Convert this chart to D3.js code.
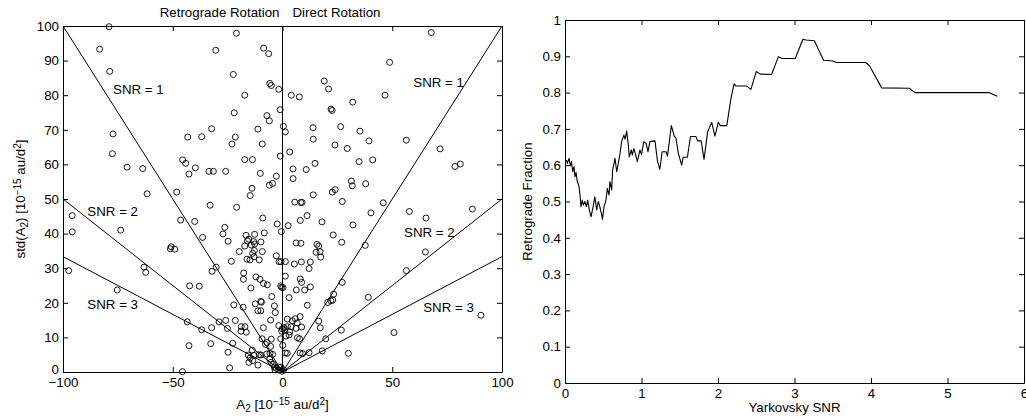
<!DOCTYPE html>
<html>
<head>
<meta charset="utf-8">
<script src="https://cdn.jsdelivr.net/npm/d3@7"></script>
<style>
  html, body { margin: 0; padding: 0; background: #fff; }
  svg { display: block; font-family: "Liberation Sans", Arial, sans-serif; }
  .tick text { font-size: 13.3px; fill: #000; }
  .tick line, .domain { stroke: #000; stroke-width: 1; }
  .lbl { font-size: 13.3px; fill: #000; }
</style>
</head>
<body>
<svg id="chart" width="1026" height="417"></svg>
<script>
// ---------------------------------------------------------------- dados
// painel esquerdo: A2 (10^-15 au/d^2) e std(A2)
const a2 = [
  -79, -83.3, -78.7, -77.2, -77.5, -70.8, -63.7, -61.7, -48.2, -45.5, -44.1, -42.6, -43.2, -39.7, -36.8, -33.5, -31.5, -32.3, -30.4, -25.9, -33, -20.9,
  -21, -8.6, -6.3, -22.4, -5.8, -5.1, -1.7, -17.2, 4, 7.7, 19, 21, 32, 22.1, 22.6, -22, -1.1, -7.1, -6, -11.2, 0.4, 1.3, 13.9, 26.5, 35.3, -21.5, -23, -9.2, 14, 23.9, 29.5, 39.4, -1, 3.3, -17.2, -13.7, -10.1, -2.8, -6, -4.5, 4.8, 4.8, 10.8, 14.8, 34.9, 41.1, 31.4, 31.8, 37.9, 14, 22.7, 24, -13.9, -14.7,
  67.8, 48.8, 46.7, 56.4, 71.8, 78.6, 81, 27.2, 5.6, 8.3, 8.9, 45.9, 86.5,
  40.3, 57.8, 65.4, 11.2, 8.1, 18, 2.6, 32.1, -0.5, 23.1, 27, 6.2, 8.4, 15.7, 16.5, 15.3, 17.1, 17.4, 37.7, 65.1, 56.4, -0.7, 1.3, 5.4, 8.6, 12.7, 12.1, 1.3, 8.1, 8.7, 6.3, 10.1, 12.7, -0.4, 3, 27.2, 23.3, 22, 20.6, 22.9, 11.3, 39.1, 90.4, 2.2, 4.5, 5.8, 8, -0.1, 1, 3.9, 6.2, 8.7, 16.5, 17.2, 26.8, 1.6, 3, 6.8, 7.8, 19.7, 50.8, 0.1, 1.3, 2.2, 8, 9.2, 12.1, 18.1, 30, -0.7,
  -95.8, -95.8, -73.7, -46.4, -40, -36.4, -26.3, -27.1, -24.8, -50.7, -49.1, -51.1, -97.4, -63.1, -62.3, -32.1, -30.2, -23.3, -75.3, -42.3, -37.9, -43.4, -36.8, -32.3, -28.9, -25.1, -42.6, -32.7, -22.7, -24.8, -24.1, -45.6, -22.2, -25.9, -17.9,
  -9, -2.4, -16.6, -15.4, -12.7, -8.3, -16, -13.1, -12.7, -9.8, -14.2, -12.8, -13.6, -9.2, -19.7, -16.2, -14.8, -13, -10.6, -17.2, -2.8, -1.6, -17.7, -17.8, -12.1, -10.3, -8.7, -6.9, -14.4, -0.8, 0.2, -4.9, -9.9, -9.6, -12.4, -11.2, -9.9, -3.7, -3.3, -21.5, -18.8, -17.1, -18.9, -16.5, -8.7, -5.4, -1.7, -0.4, 0.7, 2.2, 3.3, 6.7, -0.8, -13.8, -15.6, -14.8, -15.3, -13.6, -11.2, -10.6, -9.8, -13, -9.3, -7.8, -7.1, -5.1, -5.4, -7.2, -5.7, -4.5, -5.8, -5.2, -4.3, -3.7, -2.8, -1.6, -3.4, -1.7, -0.2, 0.5
];
const stdA2 = [
  99.8, 93.3, 86.9, 68.8, 63.1, 59.2, 58.8, 51.5, 52, 61.3, 60.3, 57.2, 67.9, 59, 68, 58, 58, 70.3, 93, 58, 48.2, 47.6,
  97.9, 93.6, 92, 86, 83.4, 82.8, 81.7, 80, 80, 79.5, 84.1, 81.8, 78, 76, 75.6, 74.9, 75.8, 74.1, 72.6, 70.2, 71, 69.4, 70.6, 70.9, 69.6, 67.9, 65.9, 65.9, 67.3, 65.6, 64.6, 66.8, 62.4, 63.6, 61.4, 61.4, 57.4, 56.6, 54, 54.5, 58.7, 55.9, 58.5, 60.3, 60.8, 61.3, 55.2, 53.8, 54.4, 51.2, 52, 52.7, 53.1, 51,
  98.1, 89.5, 80, 67, 64.5, 59.4, 60.1, 49.3, 49.1, 49, 49, 48.9, 47.1,
  46, 46.4, 44.5, 45.2, 43.8, 43.4, 42.3, 42.5, 40.6, 39.6, 37.5, 37.3, 37.2, 36.9, 36.4, 34.6, 34.8, 33.2, 36.6, 34.7, 29.3, 31.9, 31.9, 31.2, 31.8, 31.8, 29.9, 27.7, 26.9, 25.9, 23.7, 23.7, 24.6, 24.5, 21.5, 25.9, 22.5, 20.6, 20.1, 20.8, 19.3, 21.6, 16.4, 15.3, 14.8, 15.4, 16, 12.5, 12.2, 13.1, 12.6, 13, 14.7, 12.8, 12.1, 10.4, 10.7, 9.9, 9.6, 9.6, 11.4, 7.7, 5.5, 5.4, 5.5, 5.3, 5.6, 6.1, 5.4, 1.4,
  45.2, 40.5, 41, 43.9, 43.5, 38.9, 41.8, 39.9, 37.8, 36.2, 35.5, 35.6, 29.3, 30.3, 28.8, 29.1, 30.3, 32, 23.7, 24.9, 24.8, 14.5, 12.2, 12.8, 14.5, 12.6, 7.6, 8.2, 8.3, 5.7, 1.2, 0.1, 19.4, 14.9, 18.7,
  44.5, 42.8, 39.5, 38.4, 39.8, 40.2, 37.9, 37.7, 37, 37.6, 36.7, 35.1, 34.3, 34.8, 34.8, 32.6, 32.4, 33.3, 32.4, 36.4, 33.6, 31.9, 28.6, 26.8, 27.5, 26.8, 25.6, 25.2, 24.3, 24.9, 24.4, 21.8, 20.4, 20.2, 19.7, 17.7, 17.7, 19.1, 17.2, 14.9, 13.1, 13.1, 11.8, 11.5, 12.8, 15, 13.4, 11.8, 12.8, 13.1, 11.6, 14.2, 9.6, 6.3, 4.9, 4, 2.8, 3.3, 2, 5, 4.9, 4.8, 9.6, 8, 8.5, 9.5, 7.4, 5.2, 5.4, 5.1, 3.7, 2.8, 2.2, 1.4, 1, 0.6, 0.6, 1.4, 0.2, 0.6
];

// retas SNR = |A2| / std(A2)
const snrLevels = [1, 2, 3];
const snrLabels = [
  { text: 'SNR = 1', x: -77.2, y: 80.3, anchor: 'start' },
  { text: 'SNR = 1', x: 59.6, y: 82.4, anchor: 'start' },
  { text: 'SNR = 2', x: -88.9, y: 45.2, anchor: 'start' },
  { text: 'SNR = 2', x: 55.4, y: 39.1, anchor: 'start' },
  { text: 'SNR = 3', x: -88.9, y: 18.1, anchor: 'start' },
  { text: 'SNR = 3', x: 64.1, y: 17.4, anchor: 'start' },
];

// painel direito: fração retrógrada acumulada vs SNR
const snrX = [
  0.02, 0.03, 0.052, 0.07, 0.085, 0.10, 0.118, 0.13, 0.145, 0.16, 0.18, 0.196, 0.209, 0.226, 0.24, 0.26, 0.28, 0.297, 0.318, 0.34,
  0.37, 0.39, 0.414, 0.435, 0.455, 0.48, 0.49, 0.51, 0.536, 0.553, 0.575, 0.588, 0.61, 0.623, 0.654, 0.676, 0.697, 0.72, 0.74, 0.77,
  0.785, 0.806, 0.828, 0.84, 0.867, 0.88, 0.90, 0.92, 0.945, 0.98, 1.0, 1.03, 1.06, 1.085, 1.11, 1.176, 1.21, 1.24, 1.27, 1.32,
  1.34, 1.39, 1.43, 1.45, 1.48, 1.525, 1.545, 1.60, 1.64, 1.71, 1.735, 1.78, 1.817, 1.865, 1.918, 1.94, 1.96, 2.004, 2.03, 2.115,
  2.166, 2.21, 2.235, 2.375, 2.43, 2.50, 2.55, 2.70, 2.79, 2.84, 3.01, 3.11, 3.15, 3.26, 3.38, 3.50, 3.55, 3.93, 3.98, 4.14,
  4.50, 4.575, 5.54, 5.65
];
const fracY = [
  0.614, 0.605, 0.619, 0.598, 0.61, 0.582, 0.596, 0.568, 0.58, 0.555, 0.545, 0.518, 0.486, 0.504, 0.49, 0.5, 0.486, 0.504, 0.477, 0.458,
  0.488, 0.513, 0.477, 0.5, 0.486, 0.463, 0.451, 0.486, 0.504, 0.536, 0.518, 0.555, 0.532, 0.587, 0.619, 0.582, 0.605, 0.633, 0.665, 0.683,
  0.672, 0.694, 0.656, 0.623, 0.642, 0.628, 0.646, 0.632, 0.61, 0.642, 0.63, 0.665, 0.66, 0.637, 0.665, 0.667, 0.61, 0.589, 0.637, 0.637,
  0.625, 0.709, 0.679, 0.675, 0.634, 0.6, 0.622, 0.622, 0.679, 0.679, 0.667, 0.667, 0.616, 0.692, 0.718, 0.697, 0.68, 0.718, 0.709, 0.709,
  0.78, 0.824, 0.818, 0.818, 0.809, 0.858, 0.851, 0.850, 0.899, 0.894, 0.894, 0.947, 0.945, 0.943, 0.889, 0.887, 0.883, 0.883, 0.874, 0.813,
  0.812, 0.800, 0.800, 0.790
];

const leftXTicks = [-100, -50, 0, 50, 100];
const leftYTicks = d3.range(0, 101, 10);
const rightXTicks = [0, 1, 2, 3, 4, 5, 6];
const rightYTicks = [0, 0.1, 0.2, 0.3, 0.4, 0.5, 0.6, 0.7, 0.8, 0.9, 1];

// ---------------------------------------------------------------- helpers
const svg = d3.select('#chart');
const TICK = 5;

// caixa estilo MATLAB: ticks para dentro nos quatro lados
function drawBox(g, x, y, xTicks, yTicks, xPad) {
  const [x0, x1] = x.range();
  const [y0, y1] = y.range();
  g.append('g').attr('transform', `translate(0,${y0})`)
    .call(d3.axisBottom(x).tickValues(xTicks).tickSizeInner(-TICK).tickSizeOuter(0).tickPadding(xPad)
      .tickFormat(d3.format('')));
  g.append('g').attr('transform', `translate(0,${y1})`)
    .call(d3.axisTop(x).tickValues(xTicks).tickSizeInner(-TICK).tickSizeOuter(0).tickFormat(''));
  g.append('g').attr('transform', `translate(${x0},0)`)
    .call(d3.axisLeft(y).tickValues(yTicks).tickSizeInner(-TICK).tickSizeOuter(0).tickPadding(4)
      .tickFormat(d3.format('')));
  g.append('g').attr('transform', `translate(${x1},0)`)
    .call(d3.axisRight(y).tickValues(yTicks).tickSizeInner(-TICK).tickSizeOuter(0).tickFormat(''));
  g.selectAll('.tick text').attr('font-family', null).attr('font-size', null);
}

// texto com sub/sobrescritos: partes [texto, 'sub'|'sup'|null]
function richText(sel, parts) {
  parts.forEach(([t, kind]) => {
    const ts = sel.append('tspan').text(t);
    if (kind === 'sub') ts.attr('baseline-shift', '-30%').attr('font-size', '10px');
    if (kind === 'sup') ts.attr('baseline-shift', '40%').attr('font-size', '10px');
  });
}

// ---------------------------------------------------------------- painel esquerdo
const xL = d3.scaleLinear().domain([-100, 100]).range([63, 502]);
const yL = d3.scaleLinear().domain([0, 100]).range([372, 26]);
const gL = svg.append('g');

// linha vertical em A2 = 0
gL.append('line')
  .attr('x1', xL(0)).attr('x2', xL(0)).attr('y1', yL(0)).attr('y2', yL(100))
  .attr('stroke', '#000');

// retas de SNR constante
for (const s of snrLevels) {
  for (const side of [-1, 1]) {
    gL.append('line')
      .attr('x1', xL(0)).attr('y1', yL(0))
      .attr('x2', xL(side * 100)).attr('y2', yL(100 / s))
      .attr('stroke', '#000').attr('stroke-width', 1);
  }
}

gL.selectAll('circle.pt')
  .data(d3.range(a2.length))
  .join('circle')
  .attr('class', 'pt')
  .attr('cx', (i) => xL(a2[i]))
  .attr('cy', (i) => yL(stdA2[i]))
  .attr('r', 3)
  .attr('fill', 'none')
  .attr('stroke', '#000')
  .attr('stroke-width', 0.9);

gL.selectAll('text.snr')
  .data(snrLabels)
  .join('text')
  .attr('class', 'snr lbl')
  .attr('x', (d) => xL(d.x))
  .attr('y', (d) => yL(d.y))
  .attr('text-anchor', (d) => d.anchor)
  .text((d) => d.text);

drawBox(gL, xL, yL, leftXTicks, leftYTicks, 6);
// o "0" do eixo y encosta no "-100" do eixo x; sobe um pouco como no original
gL.selectAll('.tick text').filter((d, i, n) => d === 0 && n[i].closest('g').parentNode.getAttribute('transform') === `translate(${xL.range()[0]},0)`)
  .attr('dy', '0.1em');

gL.append('text').attr('class', 'lbl')
  .attr('x', xL(0) - 3).attr('y', 17).attr('text-anchor', 'end')
  .text('Retrograde Rotation');
gL.append('text').attr('class', 'lbl')
  .attr('x', xL(0) + 10).attr('y', 17).attr('text-anchor', 'start')
  .text('Direct Rotation');

const xLabL = gL.append('text').attr('class', 'lbl')
  .attr('x', xL(0)).attr('y', 409).attr('text-anchor', 'middle');
richText(xLabL, [['A', null], ['2', 'sub'], [' [10', null], ['−15', 'sup'], [' au/d', null], ['2', 'sup'], [']', null]]);

const yLabL = gL.append('text').attr('class', 'lbl')
  .attr('transform', `translate(25,${(yL(0) + yL(100)) / 2}) rotate(-90)`)
  .attr('text-anchor', 'middle');
richText(yLabL, [['std(A', null], ['2', 'sub'], [') [10', null], ['−15', 'sup'], [' au/d', null], ['2', 'sup'], [']', null]]);

// ---------------------------------------------------------------- painel direito
const xR = d3.scaleLinear().domain([0, 6]).range([565, 1024]);
const yR = d3.scaleLinear().domain([0, 1]).range([383, 20]);
const gR = svg.append('g');

gR.append('path')
  .datum(d3.range(snrX.length))
  .attr('fill', 'none')
  .attr('stroke', '#000')
  .attr('stroke-width', 1.1)
  .attr('stroke-linejoin', 'round')
  .attr('d', d3.line().x((i) => xR(snrX[i])).y((i) => yR(fracY[i])));

drawBox(gR, xR, yR, rightXTicks, rightYTicks, 6);

gR.append('text').attr('class', 'lbl')
  .attr('x', (xR(0) + xR(6)) / 2).attr('y', 412).attr('text-anchor', 'middle')
  .text('Yarkovsky SNR');
gR.append('text').attr('class', 'lbl')
  .attr('transform', `translate(532,${(yR(0) + yR(1)) / 2}) rotate(-90)`)
  .attr('text-anchor', 'middle')
  .text('Retrograde Fraction');
</script>
</body>
</html>
